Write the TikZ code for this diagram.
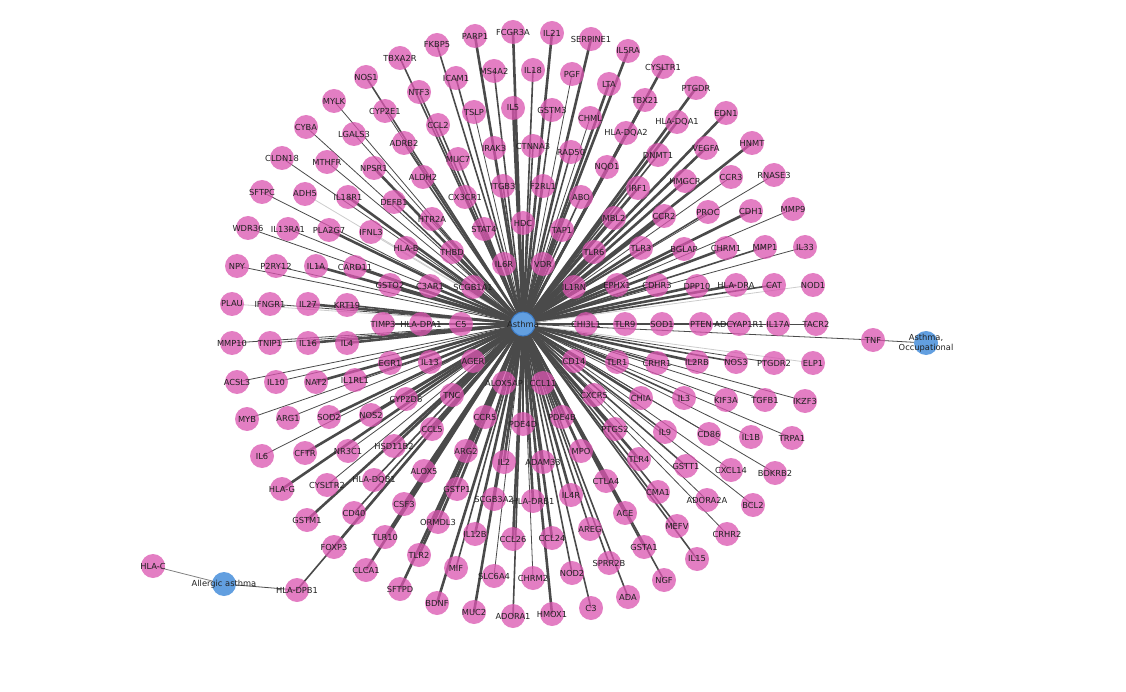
\documentclass[tikz,border=0pt]{standalone}
\usepackage{fontspec}
\setmainfont{DejaVu Sans}
\pgfdeclarelayer{links}
\pgfdeclarelayer{texts}
\pgfsetlayers{links,main,texts}
\definecolor{genepink}{HTML}{DA55B0}
\definecolor{hubblue}{HTML}{629FE0}
\definecolor{hubborder}{HTML}{3E7BC4}
\definecolor{eg}{HTML}{4A4A4A}
\definecolor{fg}{HTML}{CCCCCC}
\definecolor{labeltext}{HTML}{202020}
\def\genelist{%
FCGR3A/513/32/2.6/eg, IL21/552/33/2.6/eg, PARP1/475/36/2.6/eg, SERPINE1/591/39/2.6/eg, FKBP5/437/45/1.6/eg,
IL5RA/628/51/2.6/eg, TBXA2R/400/58/1.6/eg, CYSLTR1/663/67/2.6/eg, MS4A2/494/71/1.6/eg, IL18/533/70/1.6/eg,
PGF/572/74/0.8/eg, NOS1/366/77/1.6/eg, ICAM1/456/78/1.6/eg, LTA/609/84/2.6/eg, PTGDR/696/88/2.6/eg,
NTF3/419/92/1.6/eg, MYLK/334/101/0.8/eg, TBX21/645/100/2.6/eg, CYP2E1/385/111/0.8/eg, TSLP/474/112/0.8/eg,
IL5/513/108/2.6/eg, GSTM3/552/110/1.6/eg, EDN1/726/113/2.6/eg, HLA-DQA1/677/122/2.6/eg, CHML/590/118/0.8/eg,
CCL2/438/125/1.6/eg, CYBA/306/127/0.8/eg, LGALS3/354/134/0.8/eg, HLA-DQA2/626/133/1.6/eg, HNMT/752/143/2.6/eg,
ADRB2/404/143/1.6/eg, IRAK3/494/148/1.6/eg, CTNNA3/533/146/1.6/eg, VEGFA/706/148/2.6/eg, DNMT1/658/155/1.6/eg,
RAD50/571/152/1.6/eg, CLDN18/282/158/0.8/eg, MTHFR/327/162/0.8/eg, MUC7/458/159/1.6/eg, NPSR1/374/168/2.6/eg,
NQO1/607/167/1.6/eg, RNASE3/774/175/0.8/eg, CCR3/731/177/0.8/eg, ALDH2/423/177/1.6/eg, HMGCR/685/181/2.6/eg,
ITGB3/503/186/1.6/eg, F2RL1/543/186/1.6/eg, IRF1/638/188/2.6/eg, SFTPC/262/192/0.8/eg, ADH5/305/194/0.8/fg,
IL18R1/348/197/2.6/eg, CX3CR1/465/197/1.6/eg, ABO/581/197/1.6/eg, DEFB1/394/202/1.6/eg, MMP9/793/209/0.8/eg,
CDH1/751/211/2.6/eg, PROC/708/212/1.6/eg, HTR2A/432/219/1.6/eg, MBL2/614/218/2.6/eg, CCR2/664/216/2.6/eg,
HDC/523/223/2.6/eg, WDR36/248/228/0.8/eg, IL13RA1/288/229/0.8/eg, PLA2G7/329/230/2.6/eg, IFNL3/371/232/0.8/fg,
STAT4/484/229/1.6/eg, TAP1/562/230/1.6/eg, HLA-B/406/248/2.6/eg, THBD/452/252/1.6/eg, MMP1/765/247/1.6/eg,
IL33/805/247/0.8/eg, CHRM1/726/248/2.6/eg, BGLAP/684/249/2.6/eg, TLR3/641/248/2.6/eg, TLR6/594/252/2.6/eg,
NPY/237/266/0.8/eg, P2RY12/276/266/0.8/eg, IL1A/316/266/2.6/eg, CARD11/355/267/2.6/eg, IL6R/504/264/2.6/eg,
VDR/543/264/2.6/eg, GSTO2/390/285/2.6/eg, C3AR1/430/286/2.6/eg, SCGB1A1/473/287/2.6/eg, IL1RN/574/287/2.6/eg,
EPHX1/617/285/2.6/eg, CDHR3/657/285/2.6/eg, DPP10/697/286/2.6/eg, HLA-DRA/736/285/2.6/eg, CAT/774/285/1.6/eg,
NOD1/813/285/0.8/fg, PLAU/232/304/0.8/fg, IFNGR1/270/304/0.8/eg, IL27/308/304/2.6/eg, KRT19/347/305/1.6/eg,
TIMP3/383/324/1.6/eg, HLA-DPA1/421/324/1.6/eg, C5/461/324/2.6/eg, CHI3L1/586/324/2.6/eg, TLR9/625/324/2.6/eg,
SOD1/662/324/2.6/eg, PTEN/701/324/2.6/eg, ADCYAP1R1/739/324/1.6/eg, IL17A/778/324/0.8/fg, TACR2/816/324/0.8/eg,
MMP10/232/343/0.8/eg, TNIP1/270/343/0.8/eg, IL16/308/343/2.6/eg, IL4/347/343/2.6/eg, EGR1/390/363/1.6/eg,
IL13/430/362/2.6/eg, AGER/473/361/2.6/eg, CD14/574/361/2.6/eg, TLR1/617/362/2.6/eg, CRHR1/657/363/1.6/eg,
IL2RB/697/362/2.6/eg, NOS3/736/362/1.6/eg, PTGDR2/774/363/0.8/eg, ELP1/813/363/0.8/fg, ACSL3/237/382/0.8/eg,
IL10/276/382/0.8/eg, NAT2/316/382/2.6/eg, IL1RL1/355/380/1.6/eg, ALOX5AP/504/383/2.6/eg, CCL11/543/383/2.6/eg,
CYP2D6/406/399/2.6/eg, TNC/452/395/2.6/eg, CXCR5/594/395/2.6/eg, CHIA/641/398/2.6/eg, IL3/684/398/1.6/eg,
KIF3A/726/400/0.8/eg, TGFB1/765/400/0.8/eg, IKZF3/805/401/0.8/eg, MYB/247/419/0.8/eg, ARG1/288/418/0.8/eg,
SOD2/329/417/2.6/eg, NOS2/371/415/2.6/eg, CCR5/485/417/2.6/eg, PDE4D/523/424/2.6/eg, PDE4B/562/417/2.6/eg,
PTGS2/615/429/2.6/eg, IL9/665/432/1.6/eg, CD86/709/434/0.8/eg, IL1B/751/437/0.8/eg, TRPA1/792/438/0.8/eg,
IL6/262/456/0.8/eg, CFTR/305/453/2.6/eg, NR3C1/348/451/0.8/eg, HSD11B2/394/446/2.6/eg, CCL5/432/429/2.6/eg,
ARG2/466/451/2.6/eg, IL2/504/462/2.6/eg, ADAM33/543/462/2.6/eg, MPO/581/451/2.6/eg, TLR4/639/459/2.6/eg,
GSTT1/686/466/1.6/eg, CXCL14/731/470/0.8/eg, BDKRB2/775/473/0.8/eg, HLA-G/282/489/2.6/eg, CYSLTR2/327/485/0.8/eg,
HLA-DQB1/374/480/1.6/eg, ALOX5/424/471/2.6/eg, GSTP1/457/489/2.6/eg, SCGB3A2/494/499/2.6/eg, HLA-DRB1/533/501/2.6/eg,
IL4R/571/495/2.6/eg, CTLA4/606/481/2.6/eg, CMA1/658/492/1.6/eg, ADORA2A/707/500/0.8/eg, BCL2/753/505/0.8/eg,
GSTM1/307/520/2.6/eg, CD40/354/513/1.6/eg, CSF3/404/504/2.6/eg, ORMDL3/438/522/2.6/eg, IL12B/475/534/2.6/eg,
CCL26/513/539/2.6/eg, CCL24/552/538/2.6/eg, AREG/590/529/1.6/eg, ACE/625/513/2.6/eg, MEFV/677/526/1.6/eg,
CRHR2/727/534/0.8/eg, FOXP3/334/547/2.6/eg, TLR10/385/537/2.6/eg, TLR2/419/555/2.6/eg, MIF/456/568/1.6/eg,
SLC6A4/494/576/0.8/eg, CHRM2/533/578/0.8/eg, NOD2/572/573/1.6/eg, SPRR2B/609/563/1.6/eg, GSTA1/644/547/1.6/eg,
IL15/697/559/1.6/eg, CLCA1/366/570/2.6/eg, SFTPD/400/589/2.6/eg, NGF/664/580/1.6/eg, BDNF/437/603/2.6/eg,
MUC2/474/612/2.6/eg, ADORA1/513/616/1.6/eg, HMOX1/552/614/2.6/eg, C3/591/608/1.6/eg, ADA/628/597/1.6/eg,
HLA-DPB1/297/590/1.6/eg, TNF/873/340/0.8/eg}
\begin{document}
\begin{tikzpicture}[x=1pt,y=-1pt,
  gene/.style={circle,fill=genepink,fill opacity=0.76,minimum size=24pt,inner sep=0pt},
  hub/.style={circle,fill=hubblue,minimum size=24pt,inner sep=0pt},
  genelabel/.style={font=\fontsize{8.3}{9.5}\selectfont,text=labeltext,inner sep=0pt,align=center},
  link/.style={line width=0.8pt,draw=eg}]
\useasboundingbox (0,0) rectangle (1126,692);
% circles
\node[hub,draw=hubborder,line width=1pt] (Asthma) at (523,324) {};
\node[hub] (Allergic) at (224,584) {};
\node[hub] (Occ) at (926,343) {};
\node[gene] (HLA-C) at (153,566) {};
\foreach \n/\x/\y/\w/\g in \genelist {
  \node[gene] (\n) at (\x,\y) {};
}
% connectors (under the translucent circles)
\begin{pgfonlayer}{links}
\foreach \n/\x/\y/\w/\g in \genelist {
  \draw[line width=\w pt,draw=\g] (Asthma.center) -- (\n.center);
}
\draw[link,draw=gray] (HLA-C.center) -- (Allergic.center);
\draw[link] (Allergic.center) -- (HLA-DPB1.center);
\draw[link] (TNF.center) -- (Occ.center);
\end{pgfonlayer}
% texts
\begin{pgfonlayer}{texts}
\node[genelabel] (tAsthma) at (Asthma.center) {Asthma};
\node[genelabel] (tAllergic) at (Allergic.center) {Allergic asthma};
\node[genelabel] (tOcc) at (Occ.center) {Asthma,\\Occupational};
\node[genelabel] (tHLA-C) at (HLA-C.center) {HLA-C};
\foreach \n/\x/\y/\w/\g in \genelist {
  \node[genelabel] (t\n) at (\n.center) {\n};
}
\end{pgfonlayer}
\end{tikzpicture}
\end{document}
